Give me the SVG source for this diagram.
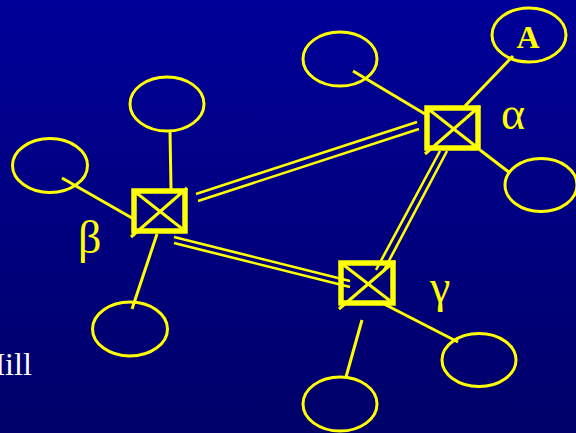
<svg xmlns="http://www.w3.org/2000/svg" width="576" height="433" viewBox="0 0 576 433">
<defs>
<linearGradient id="bg" x1="0" y1="0" x2="0" y2="1">
<stop offset="0" stop-color="#000099"/>
<stop offset="1" stop-color="#000068"/>
</linearGradient>
</defs>
<style>
.host{fill:none;stroke:#ffff00;stroke-width:3}
.sw{fill:none;stroke:#ffff00;stroke-width:5.5}
.x{stroke:#ffff00;stroke-width:3}
.ln{stroke:#ffff00;stroke-width:3;fill:none}
.tr{stroke:#ffff00;stroke-width:2.6;fill:none}
.gk{fill:#ffff00;font-family:"Liberation Serif",serif;font-size:46px}
.lbl{fill:#ffff00;font-family:"Liberation Serif",serif;font-size:32px;font-weight:bold}
.foot{fill:#ffffff;font-family:"Liberation Serif",serif;font-size:32px}
</style>
<rect x="0" y="0" width="576" height="433" fill="url(#bg)"/>
<g id="connectors">
<line class="ln" x1="513" y1="56" x2="465" y2="106"/>
<line class="ln" x1="353" y1="71" x2="425" y2="114"/>
<line class="ln" x1="480" y1="150" x2="510" y2="173"/>
<line class="ln" x1="170" y1="131" x2="171" y2="189"/>
<line class="ln" x1="62" y1="178" x2="132" y2="218"/>
<line class="ln" x1="157" y1="234" x2="132" y2="309"/>
<line class="ln" x1="362" y1="320" x2="346" y2="377"/>
<line class="ln" x1="384" y1="304" x2="458" y2="342"/>
<line class="tr" x1="196" y1="194" x2="417" y2="122"/>
<line class="tr" x1="198" y1="201" x2="419" y2="129"/>
<line class="tr" x1="174" y1="237" x2="350" y2="281"/>
<line class="tr" x1="174" y1="243" x2="350" y2="287"/>
<line class="tr" x1="440" y1="151" x2="376" y2="270"/>
<line class="tr" x1="447" y1="151" x2="383" y2="272"/>
</g>
<g id="host-A"><ellipse class="host" cx="529" cy="35" rx="37" ry="27"/><text class="lbl" x="528" y="48" text-anchor="middle">A</text></g>
<g id="host-a1"><ellipse class="host" cx="340" cy="59" rx="37" ry="27"/></g>
<g id="host-a2"><ellipse class="host" cx="541" cy="185" rx="36" ry="26.5"/></g>
<g id="host-b1"><ellipse class="host" cx="167" cy="104" rx="37" ry="27"/></g>
<g id="host-b2"><ellipse class="host" cx="50" cy="165.5" rx="37.5" ry="27"/></g>
<g id="host-b3"><ellipse class="host" cx="130" cy="329" rx="37.5" ry="27"/></g>
<g id="host-g1"><ellipse class="host" cx="340" cy="404" rx="37" ry="27"/></g>
<g id="host-g2"><ellipse class="host" cx="479" cy="360" rx="37" ry="26.5"/></g>
<g id="switch-alpha">
<rect class="sw" x="427" y="108" width="51" height="40"/>
<line class="x" x1="427" y1="108" x2="478" y2="148"/>
<line class="x" x1="480" y1="106" x2="425" y2="154"/>
<text class="gk" x="501" y="129">α</text>
</g>
<g id="switch-beta">
<rect class="sw" x="134" y="191" width="51" height="40"/>
<line class="x" x1="134" y1="191" x2="185" y2="231"/>
<line class="x" x1="187" y1="188" x2="131" y2="237"/>
<text class="gk" x="78" y="253">β</text>
</g>
<g id="switch-gamma">
<rect class="sw" x="341" y="263" width="52" height="40"/>
<line class="x" x1="341" y1="263" x2="393" y2="303"/>
<line class="x" x1="395" y1="261" x2="339" y2="309"/>
<text class="gk" x="430" y="302">γ</text>
</g>
<text class="foot" x="-18" y="375">Hill</text>
</svg>
